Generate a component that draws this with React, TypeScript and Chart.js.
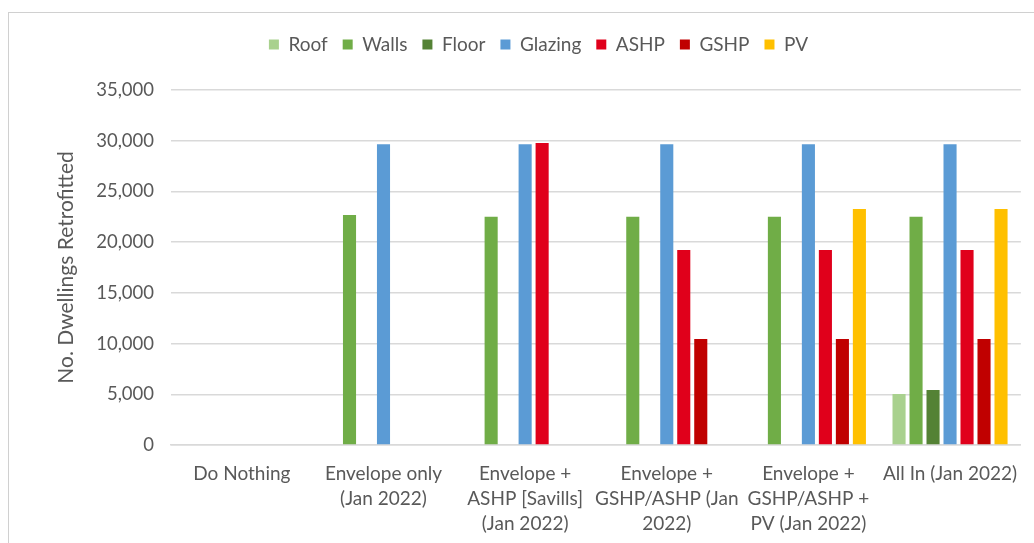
import React, { useEffect, useRef } from "react";
import { Chart, registerables } from "chart.js";

Chart.register(...registerables);

const categories: (string | string[])[] = [
  "Do Nothing",
  ["Envelope only", "(Jan 2022)"],
  ["Envelope +", "ASHP [Savills]", "(Jan 2022)"],
  ["Envelope +", "GSHP/ASHP (Jan", "2022)"],
  ["Envelope +", "GSHP/ASHP +", "PV (Jan 2022)"],
  "All In (Jan 2022)",
];

const roof = [null, null, null, null, null, 5030];
const walls = [null, 22680, 22500, 22500, 22500, 22500];
const floor = [null, null, null, null, null, 5420];
const glazing = [null, 29650, 29650, 29650, 29650, 29650];
const ashp = [null, null, 29780, 19230, 19230, 19230];
const gshp = [null, null, null, 10450, 10450, 10450];
const pv = [null, null, null, null, 23270, 23270];

const seriesNames = ["Roof", "Walls", "Floor", "Glazing", "ASHP", "GSHP", "PV"];
const seriesColors = ["#A9D18E", "#70AD47", "#548235", "#5B9BD5", "#E0001B", "#C00000", "#FFC000"];
const seriesValues = [roof, walls, floor, glazing, ashp, gshp, pv];

const yTicks = { min: 0, max: 35000, step: 5000 };

const FONT = "Lato, 'Open Sans', sans-serif";
const TEXT = "#595959";

const legendGap = {
  id: "legendGap",
  beforeInit(chart: any) {
    const orig = chart.legend.fit;
    chart.legend.fit = function () {
      orig.bind(chart.legend)();
      this.height += 26;
    };
  },
};

export default function App() {
  const ref = useRef<HTMLCanvasElement>(null);

  useEffect(() => {
    document.body.style.margin = "0";
    if (!ref.current) return;
    const chart = new Chart(ref.current, {
      type: "bar",
      data: {
        labels: categories,
        datasets: seriesNames.map((name, i) => ({
          label: name,
          data: seriesValues[i],
          backgroundColor: seriesColors[i],
          borderWidth: 0,
          categoryPercentage: 0.84,
          barPercentage: 0.77,
        })),
      },
      plugins: [legendGap],
      options: {
        animation: false,
        responsive: false,
        maintainAspectRatio: false,
        layout: { padding: { top: 7, right: 11, left: 45, bottom: 0 } },
        plugins: {
          legend: {
            position: "top",
            labels: {
              boxWidth: 10,
              boxHeight: 10,
              padding: 15,
              color: TEXT,
              font: { family: FONT, size: 19 },
            },
          },
          tooltip: { enabled: false },
        },
        scales: {
          x: {
            afterFit: (scale: any) => {
              scale.height = 98;
            },
            grid: { display: false, drawTicks: false },
            border: { color: "#d9d9d9", width: 1.5 },
            ticks: {
              color: TEXT,
              font: { family: FONT, size: 19, lineHeight: "25px" },
              padding: 16,
              maxRotation: 0,
              autoSkip: false,
            },
          },
          y: {
            min: yTicks.min,
            max: yTicks.max,
            grid: { color: "#d9d9d9", lineWidth: 1.5, drawTicks: false },
            border: { display: false },
            ticks: {
              stepSize: yTicks.step,
              color: TEXT,
              font: { family: FONT, size: 18.5 },
              padding: 17,
              callback: (v: any) => Number(v).toLocaleString("en-US"),
            },
            title: {
              display: true,
              text: "No. Dwellings Retrofitted",
              color: TEXT,
              font: { family: FONT, size: 21 },
              padding: { top: 0, bottom: 0 },
            },
          },
        },
      },
    });
    return () => chart.destroy();
  }, []);

  return (
    <div
      style={{
        position: "absolute",
        left: 8,
        top: 12,
        width: 1026,
        height: 531,
        borderTop: "1px solid #d0d0d0",
        borderLeft: "1.5px solid #d0d0d0",
        overflow: "hidden",
        background: "#fff",
      }}
    >
      <canvas ref={ref} width={1025} height={530} style={{ display: "block" }} />
    </div>
  );
}
